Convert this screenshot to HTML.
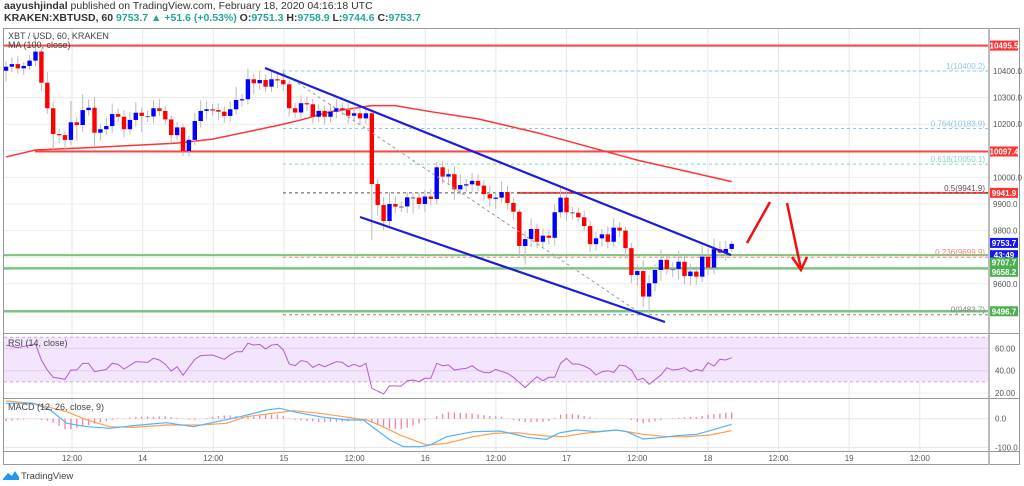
<!DOCTYPE html>
<html><head><meta charset="utf-8"><style>
html,body{margin:0;padding:0;background:#fff;width:1024px;height:486px;overflow:hidden}
svg{display:block;font-family:"Liberation Sans",sans-serif}
</style></head><body>
<svg id="chart" width="1024" height="486" viewBox="0 0 1024 486">
<text x="4" y="9" font-size="10.5" fill="#333"><tspan font-weight="bold">aayushjindal</tspan> published on TradingView.com, February 18, 2020 04:16:18 UTC</text>
<text x="4" y="21" font-size="10.5" font-weight="bold" fill="#333">KRAKEN:XBTUSD, 60 <tspan fill="#26a69a">9753.7 ▲ +51.6 (+0.53%)</tspan> O:<tspan fill="#26a69a">9751.3</tspan> H:<tspan fill="#26a69a">9758.9</tspan> L:<tspan fill="#26a69a">9744.6</tspan> C:<tspan fill="#26a69a">9753.7</tspan></text>
<g id="grid"></g>
<g id="levels"></g>
<g id="rsi"></g>
<g id="macd"></g>
<g id="candles"></g>
<g id="draw">
<line x1="283" y1="73" x2="640" y2="313" stroke="#999" stroke-width="1" stroke-dasharray="3,3"/>
<line x1="265" y1="68" x2="731" y2="255" stroke="#1c1ce0" stroke-width="2.2"/>
<line x1="360" y1="217" x2="665" y2="322" stroke="#1c1ce0" stroke-width="2.2"/>
<line x1="747" y1="243" x2="770" y2="202" stroke="#f01010" stroke-width="2.5"/>
<line x1="787" y1="203" x2="801" y2="269" stroke="#f01010" stroke-width="2.5"/>
<polyline points="792,257 801,270 807,257" fill="none" stroke="#f01010" stroke-width="2.5"/>
</g>
<g id="frame">
<rect x="3.5" y="28.5" width="1016" height="436" fill="none" stroke="#999"/>
<line x1="989" y1="28" x2="989" y2="465" stroke="#bbb" stroke-width="2"/>
<line x1="3" y1="333.5" x2="1020" y2="333.5" stroke="#999"/>
<line x1="3" y1="398.5" x2="1020" y2="398.5" stroke="#999"/>
<line x1="3" y1="451.5" x2="1020" y2="451.5" stroke="#999"/>
</g>
<g id="labels"></g>
<text x="8" y="39" font-size="9" fill="#444">XBT / USD, 60, KRAKEN</text>
<text x="8" y="48" font-size="9" fill="#444">MA (100, close)</text>
<text x="8" y="346" font-size="9" fill="#444">RSI (14, close)</text>
<text x="8" y="410" font-size="9" fill="#444">MACD (12, 26, close, 9)</text>
<g>
<path d="M3 479 L8 473 L12 476 L15 471 L19 477 L19 480 L3 480 Z" fill="#2196f3"/>
<text x="21" y="479" font-size="9.5" fill="#444">TradingView</text>
</g>
</svg>
<script>
const closes=[10416,10426,10410,10419,10439,10473,10356,10260,10163,10159,10141,10207,10197,10253,10262,10168,10181,10193,10238,10228,10181,10216,10243,10231,10229,10260,10250,10218,10159,10188,10099,10141,10212,10250,10256,10253,10247,10231,10256,10291,10294,10369,10354,10366,10341,10369,10366,10350,10260,10244,10279,10275,10228,10250,10228,10247,10260,10253,10232,10241,10222,10241,9975,9896,9836,9900,9890,9891,9925,9924,9900,9928,9919,10038,10003,10012,9955,9971,9974,9987,9969,9937,9921,9924,9945,9904,9871,9742,9768,9806,9758,9781,9773,9869,9924,9869,9867,9850,9817,9749,9771,9786,9758,9811,9800,9734,9633,9648,9552,9602,9652,9690,9655,9656,9683,9629,9646,9627,9702,9661,9730,9717,9731,9750];
const firstOpen=10401;
const wickUp=[20,25,30,15,20,60,10,40,25,20,15,80,20,60,30,40,20,30,40,20,25,30,40,20,20,30,35,20,15,20,10,15,30,40,30,20,25,20,30,50,20,40,20,35,20,30,25,40,15,20,30,25,20,25,20,30,35,20,25,20,20,25,15,20,30,45,30,20,20,15,20,25,30,20,25,20,30,40,20,30,25,20,30,20,40,25,20,10,30,40,20,25,20,30,40,25,20,20,25,20,25,20,30,35,20,15,20,25,40,30,20,40,20,25,40,25,30,20,40,30,40,30,30,10];
const wickDn=[40,20,20,25,15,20,30,20,60,30,40,20,60,25,20,50,30,20,25,20,30,20,25,60,20,25,20,20,30,20,20,20,20,25,30,20,30,25,20,20,25,20,40,25,20,20,30,25,30,20,20,25,25,20,30,20,25,20,30,20,25,20,210,40,35,30,25,20,25,60,20,30,25,20,25,30,40,20,25,30,20,25,30,40,20,25,30,40,70,30,25,20,25,30,20,30,25,20,20,30,25,30,25,20,25,40,30,40,40,70,30,40,20,30,40,30,35,30,20,30,25,20,30,10];
const maIdx=[0,5,16,29,35,46,50,55,62,66,72,80,90,107,123];
const maVal=[10077,10103,10114,10129,10144,10195,10216,10247,10270,10270,10247,10220,10168,10065,9984];
const rsiIdx=[0,2,4,5,6,7,8,10,11,12,13,14,15,17,18,19,20,22,24,25,26,27,28,29,30,32,33,35,37,38,39,40,41,42,43,44,45,46,47,48,49,50,51,52,53,54,56,57,58,59,60,61,62,64,65,67,68,69,70,71,72,73,74,75,76,77,78,79,80,81,82,83,85,86,88,89,90,91,92,93,94,95,96,97,98,99,100,101,102,103,104,105,106,107,108,109,111,112,113,114,115,116,117,118,119,120,121,122,123];
const rsiVal=[63,60.6,63,64,49.6,40.6,34.1,32.3,40.6,40.6,46.6,46.6,39.1,41.2,46.6,45.7,41.5,48.1,47.5,51.1,49.6,45.7,39.7,43.6,35.9,50.2,53.5,54.1,50.2,54.1,57,57,64.6,63,63.6,59.5,63,63.6,58.6,46,44.5,49,48.1,43,45.7,43.6,48.1,47.5,43.6,45.7,43.6,46.6,24.2,19.1,26.5,26.2,31,31.6,30.1,33.2,33.2,46.6,44.5,45.1,40.6,41.5,42.1,44.5,40.6,38.5,38.2,41.2,37.6,34.1,24.8,30.1,34.6,31,34.1,34.1,46.6,51.1,46,46,44.2,41.5,36.1,39.1,40,38.5,45.1,44.2,40.6,31.6,33.2,27.8,36.1,42.7,40.6,41.2,42.7,39.1,41.2,39.7,47.2,44.2,50.2,49.6,51.7,53.2];
const macdIdx=[0,4.6,7.5,10.3,13.7,17.6,22.7,27.2,31.7,35.7,39.7,44.2,46.4,48.7,53.2,57.7,60.6,62.8,65.1,67.3,70.2,71.9,74.7,79.2,83.7,86.8,88.3,91.6,93.9,96.7,100.1,103.5,105.2,108,111.4,113.7,117.1,119.3,123];
const macdVal=[53.8,53.8,30.4,-16.1,-27.9,-33.5,-22,-14,-27.9,-10.5,7,30.4,36.3,24.5,7,-4.5,-4.5,-39.5,-74.4,-97.8,-97.8,-91.9,-62.9,-45.4,-43,-57,-65.1,-72.1,-49,-39.5,-45.4,-39.5,-45.4,-71,-65.1,-59.4,-54.5,-41.9,-19.6];
const sigIdx=[0,4.6,10.3,13.7,17.6,21.6,27.2,32.9,37.4,40.7,48.7,53.2,57.2,61.1,63.9,66.8,71.3,74.7,79.2,82.6,86.8,88.3,91.6,94.5,97.9,103.5,108,112,115.4,119.3,123];
const sigVal=[61.8,53.8,24.5,-4.5,-27.9,-30.2,-22,-22,-16.1,7,28,18.9,7,-4.5,-27.9,-57,-91.9,-86.1,-62.9,-51.2,-48.9,-53.4,-60.3,-62.9,-51.2,-39.5,-54.5,-62.9,-62.9,-57,-41.9];
const priceTicks=[10400,10300,10200,10000,9900,9800,9600];
const timeLabels=["12:00","14","12:00","15","12:00","16","12:00","17","12:00","18","12:00","19","12:00"];
const rsiTicks=[60,40,20];
const macdTicks=[0,-100];

const NS="http://www.w3.org/2000/svg";
const X=i=>6+i*5.9;
const Y=p=>71+(10400-p)*0.266;
const RY=v=>393-(v-20)*1.115;
const MY=v=>418.7-v*0.2863;
function mk(parent,tag,attrs){const e=document.createElementNS(NS,tag);for(const k in attrs)e.setAttribute(k,attrs[k]);parent.appendChild(e);return e;}
const grid=document.getElementById('grid'),lev=document.getElementById('levels'),cg=document.getElementById('candles'),lab=document.getElementById('labels'),rg=document.getElementById('rsi'),mg=document.getElementById('macd');

for(let k=0;k<13;k++){const gx=72+k*70.65;const l=mk(grid,'line',{x1:gx,y1:29,x2:gx,y2:451,stroke:'#e6e6e6'});


const t=mk(lab,'text',{x:gx,y:461,'font-size':8,fill:'#555','text-anchor':'middle'});t.textContent=timeLabels[k];

}
for(let p=10500;p>=9500;p-=100){const l=mk(grid,'line',{x1:4,y1:Y(p),x2:988,y2:Y(p),stroke:'#ececec'});

}
priceTicks.forEach(p=>{const t=mk(lab,'text',{x:993,y:Y(p)+3,'font-size':8,fill:'#555'});t.textContent=p.toFixed(1);

});

function hl(p,x1,color,w,dash,name){const a={x1:x1,y1:Y(p),x2:988,y2:Y(p),stroke:color,'stroke-width':w};if(dash)a['stroke-dasharray']=dash;const l=mk(lev,'line',a);

}
hl(10495.5,4,'#f44','2',null,'resistance-10495');
hl(10097.4,35,'#f44','2',null,'resistance-10097');
hl(9941.9,517,'#f44','2',null,'resistance-9941');
hl(9707.7,4,'#7cc47f','2',null,'support-9707');
hl(9658.2,4,'#7cc47f','2.5',null,'support-9658');
hl(9496.7,4,'#7cc47f','2.5',null,'support-9496');
const fibs=[[10400.2,'#8ec5e8','1(10400.2)'],[10183.9,'#8ec5e8','0.764(10183.9)'],[10050.1,'#7fd8c0','0.618(10050.1)'],[9941.9,'#555','0.5(9941.9)'],[9699.9,'#e88','0.236(9699.9)'],[9483.7,'#888','0(9483.7)']];
fibs.forEach(f=>{const l=mk(lev,'line',{x1:283,y1:Y(f[0]),x2:988,y2:Y(f[0]),stroke:f[1],'stroke-dasharray':'3,3'});


const t=mk(lev,'text',{x:985,y:Y(f[0])-2,'font-size':8,fill:f[1],'text-anchor':'end'});t.textContent=f[2];

});
let pts=maIdx.map((i,k)=>X(i)+','+Y(maVal[k])).join(' ');
const ma=mk(lev,'polyline',{points:pts,fill:'none',stroke:'#f33','stroke-width':1.5});



closes.forEach((c,i)=>{const o=i?closes[i-1]:firstOpen;const up=c>=o;const col=up?'#0000ff':'#ff0000';
const hi=Math.max(o,c)+wickUp[i],lo=Math.min(o,c)-wickDn[i];
const w=mk(cg,'line',{x1:X(i),y1:Y(hi),x2:X(i),y2:Y(lo),stroke:'#bbb'});


const top=Y(Math.max(o,c)),h=Math.max(1.2,Math.abs(Y(o)-Y(c)));
const b=mk(cg,'rect',{x:X(i)-2.2,y:top,width:4.4,height:h,fill:Math.abs(c-o)<3?'#777':col});

});

const tags=[[10495.5,'10495.5','#f33'],[10097.4,'10097.4','#f33'],[9941.9,'9941.9','#f33'],[9753.7,'9753.7','#1515ee'],[9707.7,'43:49','#1515ee'],[9680,'9707.7','#4caf50'],[9645,'9658.2','#4caf50'],[9496.7,'9496.7','#4caf50']];
tags.forEach(t=>{const y=Y(t[0]);const r=mk(lab,'rect',{x:990,y:y-5,width:28,height:10,fill:t[2]});


const tx=mk(lab,'text',{x:1004,y:y+3,'font-size':8,fill:'#fff','text-anchor':'middle','font-weight':'bold'});tx.textContent=t[1];

});

const band=mk(rg,'rect',{x:4,y:RY(70),width:984,height:RY(30)-RY(70),fill:'#f3e5fd'});


[70,30].forEach(v=>{const l=mk(rg,'line',{x1:4,y1:RY(v),x2:988,y2:RY(v),stroke:'#c9a9dd','stroke-dasharray':'3,3'});

});
[60,40,20].forEach(v=>{const l=mk(rg,'line',{x1:4,y1:RY(v),x2:988,y2:RY(v),stroke:v===20?'#eee':'#e2d2ee'});

});
rsiTicks.forEach(v=>{const t=mk(lab,'text',{x:995,y:RY(v)+3,'font-size':8,fill:'#555'});t.textContent=v.toFixed(2);

});
const rl=mk(rg,'polyline',{points:rsiIdx.map((i,k)=>X(i)+','+RY(rsiVal[k])).join(' '),fill:'none',stroke:'#b65bd0','stroke-width':1});



[0,-100].forEach(v=>{const l=mk(mg,'line',{x1:4,y1:MY(v),x2:988,y2:MY(v),stroke:'#e6e6e6'});

});
macdTicks.forEach(v=>{const t=mk(lab,'text',{x:995,y:MY(v)+3,'font-size':8,fill:'#555'});t.textContent=v.toFixed(1);

});
function interp(ix,vx,i){for(let k=0;k<ix.length-1;k++){if(i>=ix[k]&&i<=ix[k+1]){const f=(i-ix[k])/(ix[k+1]-ix[k]);return vx[k]+f*(vx[k+1]-vx[k]);}}return vx[vx.length-1];}
for(let i=0;i<closes.length;i++){const h=interp(macdIdx,macdVal,i)-interp(sigIdx,sigVal,i);
const b=mk(mg,'line',{x1:X(i),y1:MY(0),x2:X(i),y2:MY(h),stroke:'#f06292','stroke-width':1.3,opacity:0.8});

}
const sl=mk(mg,'polyline',{points:sigIdx.map((i,k)=>X(i)+','+MY(sigVal[k])).join(' '),fill:'none',stroke:'#ff9e4f','stroke-width':1.2});


const ml=mk(mg,'polyline',{points:macdIdx.map((i,k)=>X(i)+','+MY(macdVal[k])).join(' '),fill:'none',stroke:'#4fb3ff','stroke-width':1.2});


</script>
</body></html>
